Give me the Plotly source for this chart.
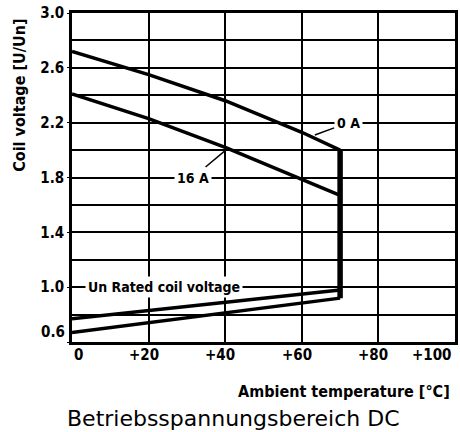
import plotly.graph_objects as go

# ---- data ----
temp_0A = [0, 20, 40, 60, 70]
volt_0A = [2.72, 2.55, 2.36, 2.13, 2.0]

temp_16A = [0, 20, 40, 60, 70]
volt_16A = [2.41, 2.23, 2.02, 1.79, 1.67]

temp_limit = [70, 70]
volt_limit = [2.0, 0.92]

temp_min_upper = [0, 70]
volt_min_upper = [0.77, 0.98]

temp_min_lower = [0, 70]
volt_min_lower = [0.67, 0.92]

x_tick_vals = [0, 20, 40, 60, 80, 100]
x_tick_text = ["0", "+20", "+40", "+60", "+80", "+100"]
y_tick_vals = [0.6, 1.0, 1.4, 1.8, 2.2, 2.6, 3.0]
y_tick_text = ["0.6", "1.0", "1.4", "1.8", "2.2", "2.6", "3.0"]
y_minor_vals = [0.8, 1.2, 1.6, 2.0, 2.4, 2.8]

BOLD = "DejaVu Sans Condensed, Liberation Sans Narrow, DejaVu Sans, sans-serif"
REG = "DejaVu Sans, Liberation Sans, sans-serif"

fig = go.Figure()
line = dict(color="black", width=3.5)
fig.add_trace(go.Scatter(x=temp_0A, y=volt_0A, mode="lines", line=line))
fig.add_trace(go.Scatter(x=temp_16A, y=volt_16A, mode="lines", line=line))
fig.add_trace(go.Scatter(x=temp_min_upper, y=volt_min_upper, mode="lines", line=line))
fig.add_trace(go.Scatter(x=temp_min_lower, y=volt_min_lower, mode="lines", line=line))
fig.add_trace(go.Scatter(x=temp_limit, y=volt_limit, mode="lines",
                         line=dict(color="black", width=5.5)))

fig.update_xaxes(range=[0, 100], tickvals=x_tick_vals, showticklabels=False,
                 showgrid=True, gridcolor="black", gridwidth=2,
                 showline=True, mirror=True, linecolor="black", linewidth=2.5,
                 zeroline=False, ticks="")
fig.update_yaxes(range=[0.6, 3.0], tickvals=y_tick_vals,
                 ticktext=[""] + y_tick_text[1:],
                 tickfont=dict(family=BOLD, size=15, color="black", weight="bold"),
                 showgrid=True, gridcolor="black", gridwidth=2,
                 minor=dict(tickvals=y_minor_vals, showgrid=True, gridcolor="black", gridwidth=1.5),
                 showline=True, mirror=True, linecolor="black", linewidth=2.5,
                 zeroline=False, ticks="outside", ticklen=2, tickcolor="black")

ann_font = dict(family=BOLD, size=14, color="black", weight="bold")
anns = []
# x tick labels
for v, t in zip(x_tick_vals, x_tick_text):
    if v == x_tick_vals[0]:
        xa, xs = "left", 0
    elif v == x_tick_vals[-1]:
        xa, xs = "right", -2
    else:
        xa, xs = "center", -5
    anns.append(dict(x=v, y=-0.04, xref="x", yref="paper", text=t, showarrow=False,
                     xanchor=xa, yanchor="middle", xshift=xs,
                     font=dict(family=BOLD, size=15, color="black", weight="bold")))
# raised 0.6 label
anns.append(dict(x=0, y=y_tick_vals[0], xref="paper", yref="y", text=y_tick_text[0],
                 showarrow=False, xanchor="right", yanchor="middle", xshift=-5, yshift=10,
                 font=dict(family=BOLD, size=15, color="black", weight="bold")))
# curve labels
anns.append(dict(x=63.4, y=2.11, ax=72.1, ay=2.2, axref="x", ayref="y", xref="x", yref="y",
                 text="0 A", showarrow=True, arrowhead=0, arrowwidth=1.5, arrowcolor="black",
                 bgcolor="white", borderpad=2, font=ann_font))
anns.append(dict(x=41, y=2.02, ax=31.6, ay=1.8, axref="x", ayref="y", xref="x", yref="y",
                 text="16 A", showarrow=True, arrowhead=0, arrowwidth=1.5, arrowcolor="black",
                 bgcolor="white", borderpad=2, font=ann_font))
anns.append(dict(x=23.9, y=1.0, xref="x", yref="y", text="Un Rated coil voltage",
                 showarrow=False, bgcolor="white", borderpad=2, font=ann_font))
# axis titles
anns.append(dict(x=-0.137, y=0.75, xref="paper", yref="paper", text="Coil voltage [U/Un]",
                 textangle=-90, showarrow=False, xanchor="center", yanchor="middle",
                 font=dict(family=BOLD, size=16, color="black", weight="bold")))
anns.append(dict(x=0.992, y=-0.15, xref="paper", yref="paper", text="Ambient temperature [°C]",
                 showarrow=False, xanchor="right", yanchor="middle",
                 font=dict(family=BOLD, size=16, color="black", weight="bold")))
anns.append(dict(x=0.422, y=-0.234, xref="paper", yref="paper", text="Betriebsspannungsbereich DC",
                 showarrow=False, xanchor="center", yanchor="middle",
                 font=dict(family=REG, size=22, color="black")))

fig.update_layout(width=460, height=432, margin=dict(l=72, r=2, t=13, b=90),
                  paper_bgcolor="white", plot_bgcolor="white", showlegend=False,
                  annotations=anns)

fig.write_html("out.html", config={"displayModeBar": False},
               post_script="document.body.style.margin='0';document.body.style.overflow='hidden';")
